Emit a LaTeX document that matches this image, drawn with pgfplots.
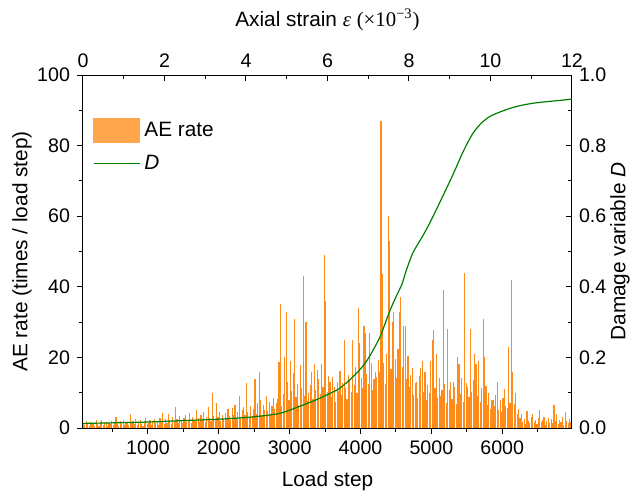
\documentclass[border=0pt]{standalone}
\usepackage{pgfplots}
\pgfplotsset{compat=1.18}
\usepackage{fontspec}
\setmainfont{Liberation Sans}
\newfontfamily\serifface{Liberation Serif}
\definecolor{aebar}{RGB}{255,140,26}
\definecolor{aelight}{RGB}{255,166,77}
\definecolor{dgreen}{RGB}{0,128,0}
\pgfplotsset{
  common/.style={
    at={(0,0)}, anchor=south west, scale only axis,
    width=244.5pt, height=176.5pt,
    /pgf/number format/assume math mode=true,
    /pgf/number format/set thousands separator={},
    tick label style={font=\fontsize{9.8}{11}\selectfont, black},
    label style={font=\fontsize{10.4}{12}\selectfont},
    axis line style={line width=0.5pt, black},
    tick style={line width=0.5pt, black},
    major tick length=3pt, minor tick length=1.75pt,
  }
}
\begin{document}
\begin{tikzpicture}
% main axis: AE rate
\begin{axis}[common,
  xmin=84, xmax=6984, ymin=0, ymax=100,
  axis x line*=bottom, axis y line*=left,
  xtick={1000,2000,3000,4000,5000,6000},
  minor xtick={500,1500,2500,3500,4500,5500,6500},
  ytick={0,20,40,60,80,100}, minor ytick={10,30,50,70,90},
  tick align=outside,
  xlabel={Load step}, ylabel={AE rate (times / load step)},
  xlabel style={at={(axis description cs:0.5,-0.150)}, anchor=center},
  ylabel style={at={(axis description cs:-0.125,0.5)}, anchor=center, rotate=0},
  clip=true,
]
\addplot[ycomb, color=aebar, line width=0.58pt, mark=none]
 table[row sep=\\, x expr=90+20*\coordindex, y index=0] {
y\\
1.5\\ 0.8\\ 2\\ 1.2\\ 0.6\\ 1.8\\ 1\\ 1.4\\ 0.7\\ 2.2\\
1.1\\ 0.5\\ 1.6\\ 2.4\\ 0.9\\ 1.3\\ 1.8\\ 0.6\\ 1.5\\ 1\\
2\\ 0.8\\ 1.4\\ 3\\ 1.2\\ 0.7\\ 1.9\\ 1.1\\ 2.3\\ 0.9\\
1.5\\ 1.7\\ 0.8\\ 4\\ 1.3\\ 2.1\\ 1\\ 2.6\\ 0.9\\ 1.6\\
2.2\\ 1.2\\ 0.7\\ 1.9\\ 2.8\\ 1.1\\ 1.5\\ 2.4\\ 0.8\\ 1.8\\
2.5\\ 1.4\\ 2\\ 0.9\\ 2.9\\ 1.6\\ 4.2\\ 1.2\\ 2.6\\ 1.5\\
4\\ 2.2\\ 1\\ 3.1\\ 1.8\\ 6\\ 2.5\\ 1.4\\ 3.4\\ 2\\
1.3\\ 2.8\\ 3.6\\ 1.7\\ 2.4\\ 4.2\\ 1.5\\ 3\\ 2.2\\ 1.9\\
5\\ 2.7\\ 1.6\\ 3.8\\ 2.3\\ 4.5\\ 1.8\\ 3.2\\ 6\\ 2.9\\
2.1\\ 10\\ 3.5\\ 2.4\\ 7\\ 3.1\\ 4.6\\ 2\\ 3.8\\ 2.6\\
4.2\\ 2.9\\ 5.3\\ 3.3\\ 2.2\\ 5.8\\ 3.6\\ 6.5\\ 2.7\\ 4.4\\
9\\ 3.2\\ 5.1\\ 6\\ 3.8\\ 12.8\\ 4.6\\ 2.9\\ 6.2\\ 3.5\\
5.4\\ 14\\ 4.1\\ 7.2\\ 16\\ 8\\ 3.7\\ 6.6\\ 5.2\\ 9\\
4.8\\ 7.5\\ 3.9\\ 6.1\\ 8.4\\ 5.3\\ 7\\ 8.3\\ 18.8\\ 35\\
6.2\\ 9.5\\ 20\\ 33\\ 13\\ 7.8\\ 19\\ 10.4\\ 15.7\\ 31\\
8.7\\ 12.5\\ 6.4\\ 17.8\\ 11.2\\ 43\\ 9.1\\ 30\\ 7.6\\ 10\\
12.3\\ 16\\ 8.2\\ 18\\ 10.8\\ 16.4\\ 14\\ 9.6\\ 18\\ 11.5\\
49\\ 36\\ 10.2\\ 14.8\\ 13\\ 8.9\\ 14.5\\ 11.7\\ 7.4\\ 13\\
10.5\\ 16.2\\ 9.3\\ 12.8\\ 25\\ 11.4\\ 8.2\\ 15\\ 13.6\\ 10.1\\
25\\ 12.2\\ 17.4\\ 9.8\\ 34\\ 24\\ 14.1\\ 11.3\\ 29\\ 27\\
15.2\\ 12.6\\ 27\\ 18.4\\ 10.7\\ 13.9\\ 16\\ 14.5\\ 19.2\\ 15.8\\
87\\ 43.6\\ 18.5\\ 12.4\\ 21\\ 60\\ 53\\ 16.8\\ 30\\ 33\\
19.6\\ 14.2\\ 22.5\\ 33\\ 37\\ 17.3\\ 29\\ 29\\ 13.8\\ 20.4\\
11.6\\ 15.1\\ 17\\ 9.4\\ 12.7\\ 13\\ 8.5\\ 14.6\\ 17\\ 19\\
10.3\\ 16\\ 7.8\\ 12.1\\ 9.9\\ 19\\ 25\\ 27.7\\ 11.2\\ 21\\
8.6\\ 14.3\\ 9\\ 10.7\\ 39\\ 12.4\\ 7.1\\ 28\\ 10.9\\ 13\\
8.3\\ 13\\ 11.6\\ 6.9\\ 20\\ 18\\ 9.7\\ 14.2\\ 7.5\\ 44\\
12.8\\ 11.7\\ 8.8\\ 28\\ 10.1\\ 13.5\\ 21\\ 18\\ 9.2\\ 19\\
7.3\\ 11.4\\ 31\\ 20\\ 12\\ 6.5\\ 9.8\\ 5.4\\ 8\\ 8\\
6.1\\ 9.3\\ 13\\ 5.2\\ 7.9\\ 4.6\\ 8.4\\ 11\\ 6.3\\ 5.8\\
23\\ 7.2\\ 42\\ 16\\ 6.8\\ 10\\ 3.9\\ 5.5\\ 2.8\\ 4\\
1.8\\ 2.6\\ 1.2\\ 4.8\\ 2.1\\ 1.5\\ 3.1\\ 4\\ 1.7\\ 2.4\\
1.1\\ 2.9\\ 5\\ 1.6\\ 2.2\\ 3\\ 0.9\\ 1.9\\ 2.7\\ 1.3\\
2.5\\ 1.4\\ 6.4\\ 2\\ 4\\ 1.2\\ 2.3\\ 1.7\\ 3.2\\ 0.8\\
4.4\\ 1.9\\ 1.3\\ 2.6\\ 1.8\\
};
\end{axis}
% right axis: damage variable
\begin{axis}[common,
  xmin=84, xmax=6984, ymin=0, ymax=1,
  axis y line*=right, axis x line=none,
  ytick={0,0.2,0.4,0.6,0.8,1.0}, minor ytick={0.1,0.3,0.5,0.7,0.9},
  tick align=inside,
  yticklabel style={/pgf/number format/.cd, fixed, fixed zerofill, precision=1},
  ylabel={Damage variable \textit{D}},
  ylabel style={at={(axis description cs:1.098,0.5)}, anchor=center, rotate=0},
  legend cell align=left,
  legend style={draw=none, fill=none, at={(axis description cs:0.02,0.88)}, anchor=north west,
    font=\fontsize{10.4}{12}\selectfont, row sep=4pt, inner sep=0pt,
    /tikz/every even column/.append style={column sep=3pt}},
]
\addlegendimage{legend image code/.code={\fill[aelight] (0pt,-6pt) rectangle (23pt,6pt);}}
\addlegendentry{AE rate}
\addplot[dgreen, line width=0.6pt, smooth, tension=0.5, mark=none,
  legend image code/.code={\draw[dgreen, line width=0.6pt] (0pt,0pt) -- (23pt,0pt);}]
 coordinates {
(84,0.013) (600,0.015) (1000,0.017) (1495,0.021) (2000,0.025) (2400,0.030)
(2723,0.037) (2906,0.044) (3188,0.065) (3400,0.082) (3569,0.098) (3710,0.113)
(3894,0.145) (4035,0.176) (4134,0.205) (4275,0.258) (4345,0.295) (4416,0.333)
(4515,0.378) (4580,0.405) (4652,0.450) (4741,0.497) (4881,0.545) (4980,0.582)
(5121,0.640) (5305,0.718) (5446,0.782) (5587,0.835) (5728,0.868) (5869,0.887)
(6151,0.908) (6434,0.920) (6857,0.929) (6984,0.932)
};
\addlegendentry{\textit{D}}
\end{axis}
% top axis: axial strain
\begin{axis}[common,
  xmin=0, xmax=12, ymin=0, ymax=1,
  axis x line*=top, axis y line=none,
  xtick={0,2,4,6,8,10,12}, minor xtick={1,3,5,7,9,11},
  tick align=inside,
  xlabel={Axial strain {\serifface\itshape ε} {\serifface(×10\textsuperscript{−3})}},
  xlabel style={at={(axis description cs:0.5,1.156)}, anchor=center},
]
\addplot[draw=none] coordinates {(0,0)};
\end{axis}
\pgfresetboundingbox
\path[use as bounding box] (-41.5pt,-33.5pt) rectangle (275.5pt,214pt);
\end{tikzpicture}
\end{document}
